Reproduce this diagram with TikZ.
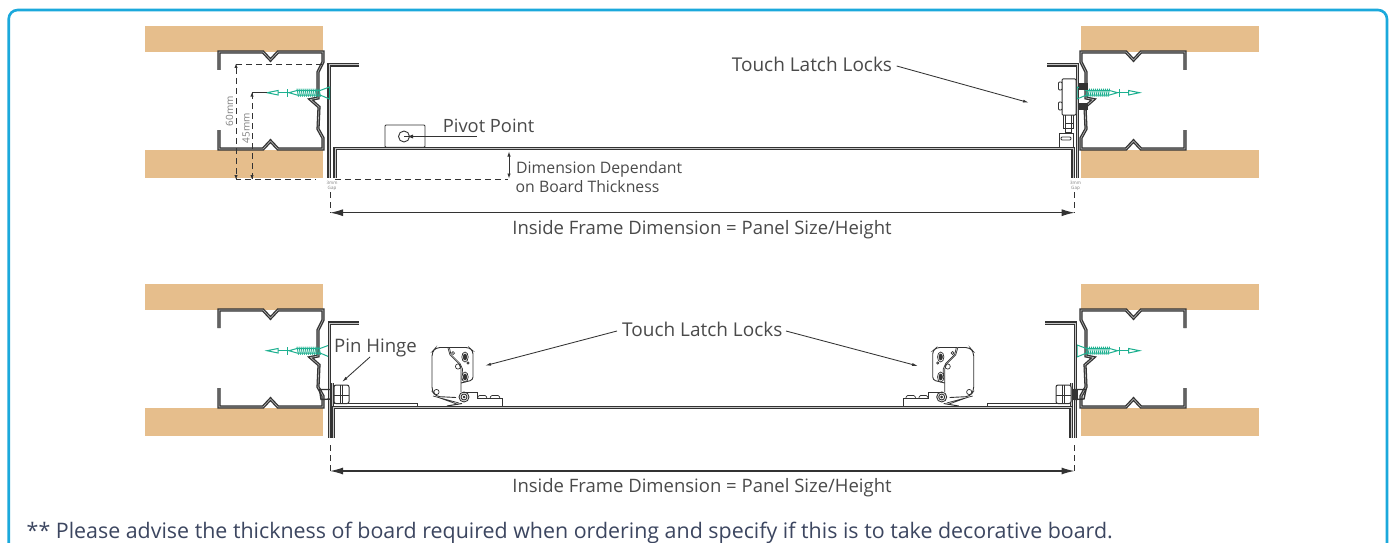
\documentclass[tikz,border=0pt]{standalone}
\usepackage{fontspec}
\setmainfont{Open Sans}
\usetikzlibrary{arrows.meta,calc}
\definecolor{wood}{HTML}{E6BE8C}
\definecolor{frameblue}{HTML}{1BA9DC}
\definecolor{ink}{HTML}{333333}
\definecolor{txt}{HTML}{4A4A4A}
\definecolor{navy}{HTML}{3C4660}
\definecolor{teal2}{HTML}{1DB090}
\tikzset{
 x=1pt,y=-1pt,
 sheet/.style={draw=ink,line width=1.1pt,double=gray!45,double distance=1pt,line join=miter},
 sheetb/.style={draw=ink,line width=1.3pt,double=gray!55,double distance=.6pt,line join=miter},
 woodblock/.style={fill=wood,draw=none},
 fine/.style={draw=ink,line width=.7pt},
 dim/.style={draw=ink,line width=.9pt,dash pattern=on 6pt off 4pt},
 leader/.style={draw=ink,line width=.85pt},
 bigarrow/.style={draw=ink,line width=1.2pt,{Latex[length=13pt,width=7pt]}-{Latex[length=13pt,width=7pt]}},
 smallarrow/.style={-{Latex[length=6pt,width=3pt]}},
 lab/.style={text=txt,font=\fontsize{18.5}{22}\selectfont,inner sep=0pt},
 tiny/.style={text=gray,font=\fontsize{4.5}{5.5}\selectfont,inner sep=0pt,align=center},
 screwline/.style={draw=teal2,line width=1pt}
}
\newcommand{\studandwood}{%
 \fill[woodblock] (145,26) rectangle (323,52);
 \fill[woodblock] (145,150) rectangle (323,177.5);
 \draw[sheetb] (219,70) -- (219,52) -- (263,52) -- (270.5,60) -- (278,52) -- (323,52) -- (323,62) -- (318,72) -- (318,98) -- (310.5,99.5) -- (319,107) -- (318,129) -- (323,138) -- (323,149) -- (278,149) -- (270.5,141) -- (263,149) -- (219,149) -- (219,130);
}
\newcommand{\screw}{%
 \draw[screwline] (329.5,87) -- (329.5,99) -- (320,95) -- (297,95) -- (289,92.7) -- (297,90.5) -- (320,90.5) -- cycle;
 \foreach \xx in {297,299,...,319} \draw[screwline,line width=.9pt] (\xx,88.7) -- (\xx+1.5,96.7);
 \draw[screwline] (289,92.7) -- (278,92.7);
 \draw[screwline,line width=1.3pt] (287.3,89) -- (287.3,96.7);
 \draw[screwline,fill=white] (278,90.5) -- (278,95) -- (267,92.7) -- cycle;
}
\newcommand{\latch}{%
 \draw[fine,line width=.9pt,rounded corners=3pt] (448,347.5) -- (469,347.5) -- (473,351) -- (473,380) -- (461,383);
 \draw[fine,line width=.9pt,rounded corners=4pt] (448,347.5) -- (436,347.5) -- (432,352) -- (432,391) -- (436,396.5) -- (456,397.5);
 \draw[fine] (448,348) -- (450,355) -- (459,364) -- (461,369) -- (461,392);
 \draw[fine] (449.5,348) -- (451,354.5) -- (460,363.5) -- (462.5,369) -- (462,380);
 \draw[fine,fill=white] (465,357) ellipse (3.2pt and 5pt);
 \draw[fine,fill=ink] (465,357) ellipse (1.7pt and 3pt);
 \draw[fine,fill=white] (465,377) ellipse (3.2pt and 5pt);
 \draw[fine,fill=ink] (465,377) ellipse (1.7pt and 3pt);
 \draw[fine] (453,353) circle (1.5pt) (458,366.5) circle (2.6pt) (468,363) circle (1.2pt) (436.5,392) circle (2.6pt);
 \draw[fine] (433,396) -- (459,403) (437,397) -- (458,404.5);
 \draw[fine,line width=1pt] (447,406) -- (462,403.5);
 \draw[fine,line width=.9pt,fill=white] (464,397) circle (5pt) (464,397) circle (3pt);
 \draw[fine,fill=ink] (464,397) circle (1pt);
 \draw[fine] (463,392) -- (477,392) -- (477,398.5) -- (502,398.5) -- (502,406);
 \draw[fine,rounded corners=1pt] (477.5,398.5) -- (478.5,395.5) -- (486,395.5) -- (487,398.5);
 \draw[fine,rounded corners=1pt] (490,398.5) -- (491,395.5) -- (499,395.5) -- (500,398.5);
}
\newcommand{\nut}{%
 \draw[fine,line width=1pt,rounded corners=2pt,fill=white] (334,385) rectangle (349,403.5);
 \draw[fine,line width=.9pt] (340.5,385) -- (340.5,403.5) (342.8,385) -- (342.8,403.5) (334,395) -- (349,395);
}
\begin{document}
\begin{tikzpicture}
\useasboundingbox (0,0) rectangle (1392,543);
\fill[white] (0,0) rectangle (1392,543);
\clip (0,0) rectangle (1392,543);
\draw[frameblue,line width=2.6pt,rounded corners=9pt] (8.7,10) rectangle (1387,600);

% ---------- TOP ROW ----------
\studandwood
\begin{scope}[xshift=1404pt,xscale=-1]\studandwood\end{scope}
\draw[sheet] (359,65) -- (329,65) -- (329,178);
\draw[sheet] (335,178) -- (335,148.7) -- (1073,148.7) -- (1073,178);
\draw[sheet] (1047,65) -- (1077.5,65) -- (1077.5,178);
\screw
\begin{scope}[xshift=1406.5pt,xscale=-1]\screw\end{scope}
% dimensions, left
\draw[dim] (322,64) -- (236,64) -- (236,179) -- (316,179);
\draw[dim] (252,179) -- (252,92.7);
\draw[leader] (252,92.7) -- (267,92.7);
\fill[ink] (236,64) -- (234.4,68) -- (237.6,68) -- cycle (236,179) -- (234.4,175) -- (237.6,175) -- cycle;
\fill[ink] (252,92.7) -- (250.4,96.7) -- (253.6,96.7) -- cycle (252,179) -- (250.4,175) -- (253.6,175) -- cycle;
\node[rotate=90,text=gray,font=\fontsize{10}{12}\selectfont,inner sep=0pt] (sixty) at (229.5,111) {60mm};
\node[rotate=90,text=gray,font=\fontsize{10}{12}\selectfont,inner sep=0pt] (fortyfive) at (246,128) {45mm};
\node[tiny] (gapl) at (332,186) {3mm\\Gap};
\node[tiny] (gapr) at (1075.5,186) {3mm\\Gap};
% pivot
\draw[fine,line width=.9pt,rounded corners=1pt] (385,125) rectangle (425,147.3);
\draw[fine,line width=.9pt] (404,136.5) circle (5.5pt);
\node[lab,anchor=base west,font=\fontsize{18.3}{22}\selectfont] (pivot) at (442.7,132.3) {Pivot Point};
\draw[leader] (404,136.5) -- (477,136.5);
\fill[ink] (408,136.5) -- (413,134.5) -- (413,138.5) -- cycle;
% thickness
\draw[dim] (335,179) -- (508,179);
\draw[leader,{Latex[length=5pt,width=3.5pt]}-{Latex[length=5pt,width=3.5pt]}] (509,151.5) -- (509,178.5);
\node[lab,anchor=base west,font=\fontsize{15.8}{18}\selectfont] (depa) at (516,173.3) {Dimension Dependant};
\node[lab,anchor=base west,font=\fontsize{15.8}{18}\selectfont] (depb) at (515.5,192.3) {on Board Thickness};
% main dimension
\coordinate (dal) at (330,212.7); \coordinate (dar) at (1074.7,212.7);
\draw[dim] (330,192) -- (dal);
\draw[dim] (1074.7,192) -- (dar);
\draw[bigarrow] (dal) -- (dar);
\node[lab,anchor=base] (insa) at (702,234) {Inside Frame Dimension = Panel Size/Height};
% touch latch lock top
\node[lab,anchor=base west,font=\fontsize{19}{22}\selectfont] (tl1) at (731.7,71.7) {Touch Latch Locks};
\coordinate (tl1s) at (896.7,66); \coordinate (tl1e) at (1029,102.7);
\draw[leader,smallarrow] (tl1s) -- (tl1e);
% lock body
\fill[ink] (1079,83) rectangle (1088,90);
\fill[ink] (1079,103) rectangle (1088,110);
\draw[fine,line width=1pt,rounded corners=1pt,fill=white] (1062,79) rectangle (1076,115);
\draw[fine,line width=.8pt,fill=white,rounded corners=1pt] (1058.5,82) rectangle (1062,90);
\draw[fine,line width=.8pt,fill=white,rounded corners=1pt] (1058.5,102) rectangle (1062,110);
\draw[fine,line width=.9pt] (1063,115) -- (1063,128) -- (1073,128) -- (1073,115);
\draw[fine,line width=.9pt] (1065,115) -- (1065,132) -- (1071,132) -- (1071,115) (1065,123) -- (1073,123);
\draw[fine,line width=.9pt,fill=white] (1059,133) rectangle (1073,147);
\draw[fine,line width=.9pt,rounded corners=1pt] (1061,140) rectangle (1071,137);

% ---------- BOTTOM ROW ----------
\begin{scope}[yshift=-258pt]
 \studandwood
 \screw
 \begin{scope}[xshift=1404pt,xscale=-1]\studandwood\end{scope}
 \begin{scope}[xshift=1406.5pt,xscale=-1]\screw\end{scope}
\end{scope}
\draw[sheet] (359,323) -- (329.5,323) -- (329.5,437.5);
\draw[sheet] (1045,323) -- (1075.5,323) -- (1075.5,437.5);
\draw[sheet] (333,437.5) -- (333,407.5) -- (1071,407.5) -- (1071,437.5);
\draw[fine,line width=.9pt] (334,403.6) -- (417,403.6) -- (417,406);
\draw[fine,line width=.9pt] (1070,403.6) -- (987,403.6) -- (987,406);
% plates and nuts
\draw[sheet] (332.5,383) -- (332.5,406);
\draw[sheet] (1071.5,383) -- (1071.5,406);
\draw[ink,line width=1.4pt] (319.5,389.5) -- (331,389.5) -- (331,399) -- (321,399.5) -- cycle;
\draw[ink,line width=1.4pt] (1074,389.5) -- (1086,389.5) -- (1084,399) -- (1074,399.5) -- cycle;
\fill[ink] (1073,389) rectangle (1078,399.5);
\nut
\begin{scope}[xshift=1405pt,xscale=-1]\nut\end{scope}
\latch
\begin{scope}[xshift=1405.7pt,xscale=-1]\latch\end{scope}
\node[lab,anchor=base west,font=\fontsize{18.6}{22}\selectfont] (pin) at (334,352.3) {Pin Hinge};
\coordinate (pine) at (342,382); \coordinate (pins) at (370,357);
\draw[leader,smallarrow] (pins) -- (pine);
\node[lab,anchor=base west,font=\fontsize{19}{22}\selectfont] (tl2) at (622,336) {Touch Latch Locks};
\coordinate (tl2a) at (617,331); \coordinate (tl2b) at (786,331);
\coordinate (tl2c) at (485,365.7); \coordinate (tl2d) at (918,366);
\draw[leader,smallarrow] (tl2a) -- (tl2c);
\draw[leader,smallarrow] (tl2b) -- (tl2d);
\coordinate (dbl) at (330,471); \coordinate (dbr) at (1074.5,471);
\draw[dim] (330,445) -- (dbl);
\draw[dim] (1074.5,445) -- (dbr);
\draw[bigarrow] (dbl) -- (dbr);
\node[lab,anchor=base] (insb) at (702,492) {Inside Frame Dimension = Panel Size/Height};
\node[lab,text=navy,anchor=base west,font=\fontsize{21.4}{24}\selectfont] (note) at (26.5,538) {** Please advise the thickness of board required when ordering and specify if this is to take decorative board.};
\end{tikzpicture}
\end{document}
